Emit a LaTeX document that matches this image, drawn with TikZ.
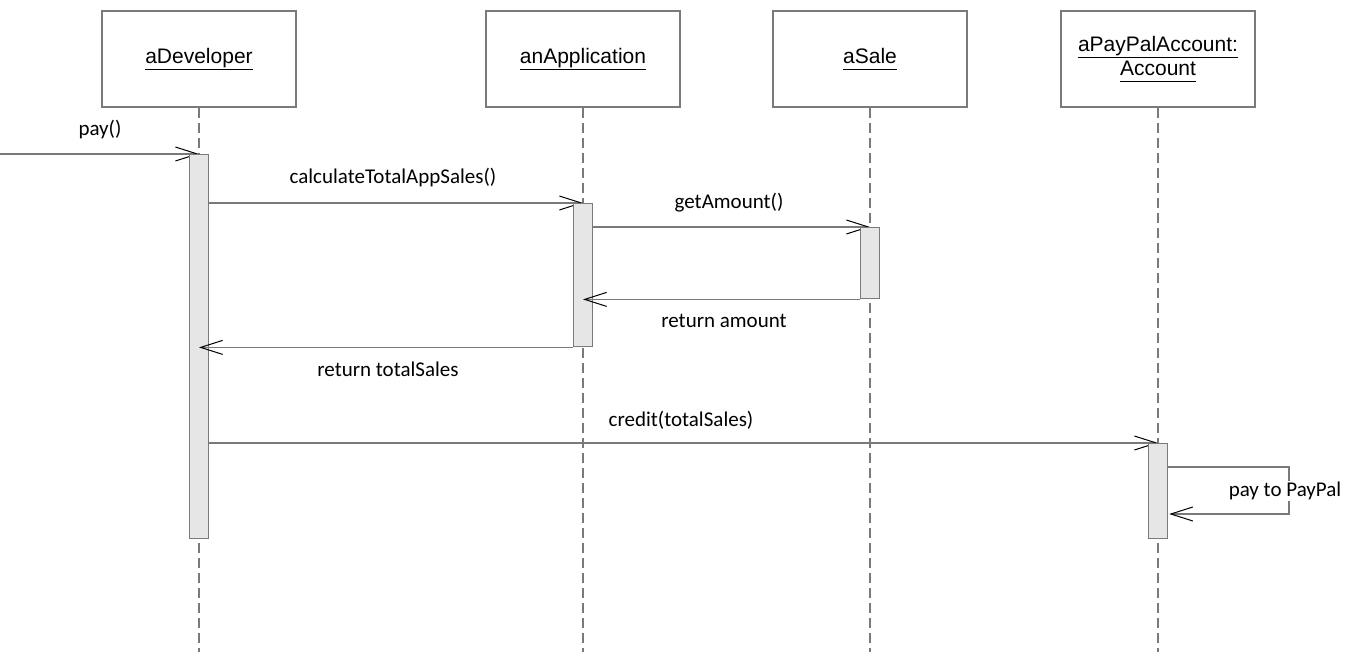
\documentclass[tikz,border=0pt]{standalone}
\usepackage{fontspec}
\setmainfont{Liberation Sans}
\newfontfamily\lblfont{Carlito}
\usetikzlibrary{arrows.meta,backgrounds}
\definecolor{linegray}{RGB}{122,122,122}
\definecolor{barfill}{RGB}{230,230,230}
\newcommand\uln[1]{\underline{\vphantom{p}#1}}
\tikzset{
  actor/.style={draw=linegray, line width=1.6pt, fill=white, minimum width=194pt,
    minimum height=96pt, inner sep=0pt, align=center,
    font=\fontsize{21}{26}\selectfont},
  lifeline/.style={draw=linegray, line width=1.8pt, dash pattern=on 10pt off 5pt},
  actbar/.style={draw=linegray, line width=1.4pt, fill=barfill, minimum width=19pt,
    inner sep=0pt, anchor=north},
  msgline/.style={draw=linegray, line width=1.6pt,
    -{Straight Barb[length=22pt,width=14pt,line width=1pt,color=black]}},
  msglabel/.style={font=\lblfont\fontsize{21}{25}\selectfont, inner sep=1pt}
}
\begin{document}
\begin{tikzpicture}[x=1pt,y=-1pt]
\useasboundingbox (0,0) rectangle (1358,652);
\coordinate (bottom) at (0,652);

% participants
\node[actor] (dev)  at (199,59)  {\uln{aDeveloper}};
\node[actor] (app)  at (583,59)  {\uln{anApplication}};
\node[actor] (sale) at (870,59)  {\uln{aSale}};
\node[actor] (pp)   at (1158,59) {\uln{aPayPalAccount:}\\[-2pt]\uln{Account}};

% activation bars
\node[actbar, minimum height=384pt] (devbar)  at (199,154)  {};
\node[actbar, minimum height=143pt] (appbar)  at (583,203)  {};
\node[actbar, minimum height=71pt]  (salebar) at (870,227)  {};
\node[actbar, minimum height=95pt]  (ppbar)   at (1158,443) {};

\coordinate (src) at (0,154);
\coordinate (s1) at (1289,467);
\coordinate (s2) at (1289,514);

\begin{pgfonlayer}{background}
  % lifelines
  \draw[lifeline] (dev.south)  -- (dev.south  |- bottom);
  \draw[lifeline] (app.south)  -- (app.south  |- bottom);
  \draw[lifeline] (sale.south) -- (sale.south |- bottom);
  \draw[lifeline] (pp.south)   -- (pp.south   |- bottom);
  % synchronous calls
  \draw[msgline] (src) -- (devbar.north);
  \draw[msgline] (devbar.east |- appbar.north) -- (appbar.north);
  \draw[msgline] (appbar.east |- salebar.north) -- (salebar.north);
  \draw[msgline] (devbar.east |- ppbar.north) -- (ppbar.north);
\end{pgfonlayer}

% returns
\draw[msgline] (salebar.south west) -- (appbar.center |- salebar.south);
\draw[msgline] (appbar.south west) -- (devbar.center |- appbar.south);

% self call
\draw[msgline] (ppbar.east |- s1) -- (s1) -- (s2) -- ([xshift=1pt]ppbar.east |- s2);

% message labels
\node[msglabel] (lpay)    at (100,130) {pay()};
\node[msglabel] (lcalc)   at (393,178) {calculateTotalAppSales()};
\node[msglabel] (lget)    at (729,203) {getAmount()};
\node[msglabel] (lretam)  at (724,321) {return amount};
\node[msglabel] (lrettot) at (388,369) {return totalSales};
\node[msglabel] (lcred)   at (681,420) {credit(totalSales)};
\node[msglabel, fill=white] (lself) at (1285,491) {pay to PayPal};
\end{tikzpicture}
\end{document}
